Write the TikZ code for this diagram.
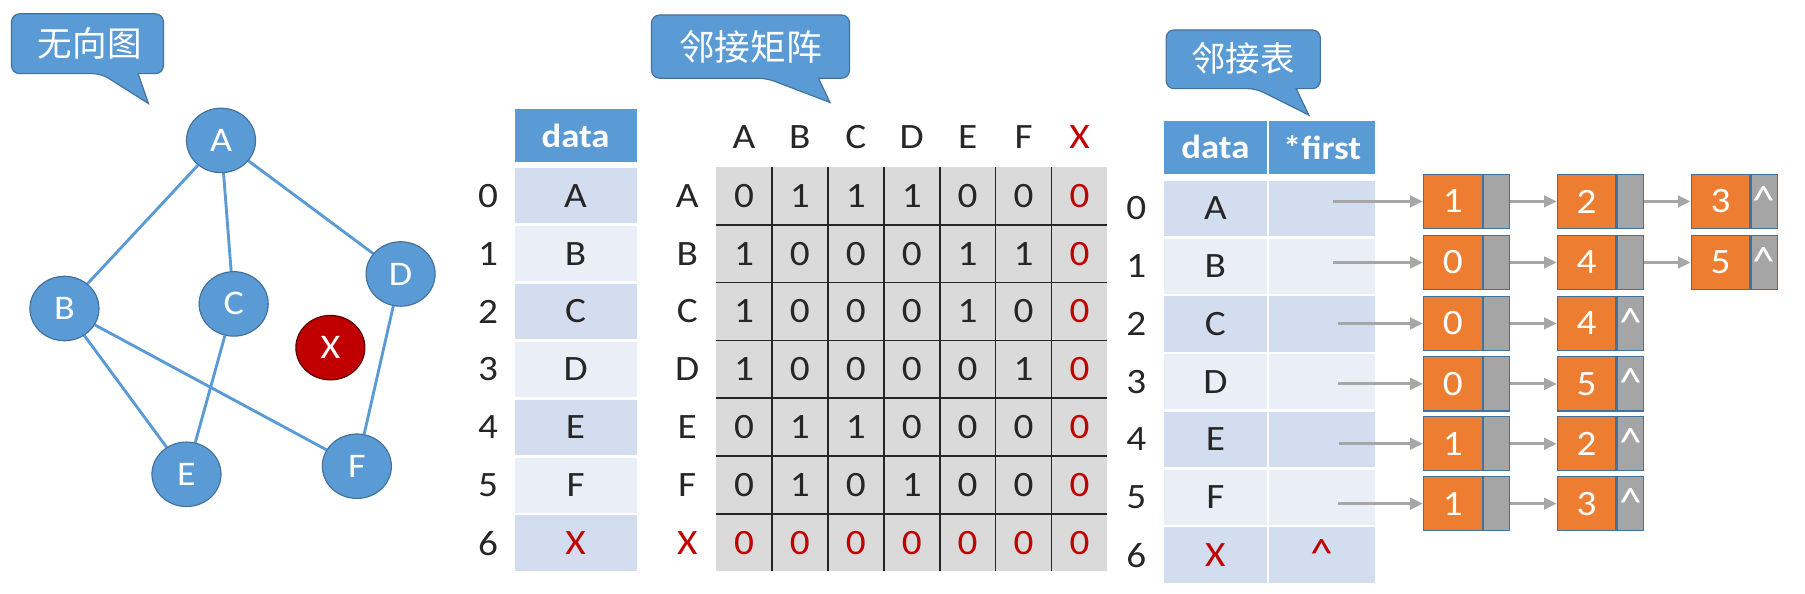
\documentclass[tikz,border=0pt]{standalone}
\usepackage{fontspec}
\setmainfont{Carlito}[FakeStretch=1.1]
\newfontfamily\cjk{Noto Sans CJK SC}
\usetikzlibrary{shapes.geometric,arrows.meta,backgrounds}
\definecolor{cblue}{HTML}{5B9BD5}
\definecolor{cborder}{HTML}{41719C}
\definecolor{cred}{HTML}{C00000}
\definecolor{rowdark}{HTML}{D2DEEF}
\definecolor{rowlight}{HTML}{EAEFF7}
\definecolor{mgray}{HTML}{DADADA}
\definecolor{corange}{HTML}{ED7D31}
\definecolor{cgray}{HTML}{A5A5A5}
\definecolor{agray}{HTML}{A6A6A6}
\definecolor{ctext}{HTML}{262626}
\newcommand\myfs[1]{\fontsize{#1}{#1}\selectfont}
\newcommand\caret{\scalebox{1.5}{\char"5E\relax}}
\begin{document}
\begin{tikzpicture}[x=1pt,y=-1pt,
  bubble/.style={fill=cblue,draw=cborder,line width=1pt},
  bubbletext/.style={text=white,inner sep=0pt,font=\cjk\myfs{#1}},
  gnode/.style={ellipse,fill=cblue,draw=cborder,line width=1pt,minimum width=60pt,minimum height=56pt,inner sep=0pt,text=white,font=\myfs{30}},
  xnode/.style={gnode,fill=cred,draw=black!55!cred},
  gedge/.style={draw=cblue,line width=2.5pt},
  hdr/.style={fill=cblue,text=white,font=\bfseries\myfs{29},inner sep=0pt,minimum height=46pt},
  rowd/.style={fill=rowdark,inner sep=0pt,text=ctext,font=\myfs{31},minimum height=48pt},
  rowl/.style={fill=rowlight,inner sep=0pt,text=ctext,font=\myfs{31},minimum height=48pt},
  lbl/.style={inner sep=0pt,text=ctext,font=\myfs{31}},
  redt/.style={text=cred},
  gridline/.style={draw=black!85,line width=1.5pt},
  onode/.style={fill=corange,draw=cborder,line width=1pt,minimum width=51pt,minimum height=47pt,inner sep=0pt,text=white,font=\myfs{31}},
  pnode/.style={fill=cgray,draw=cborder,line width=1pt,minimum width=23pt,minimum height=47pt,inner sep=0pt,text=white,font=\myfs{24}},
  arr/.style={draw=agray,line width=2.5pt,-{Triangle[length=11pt,width=10pt]}}
]
\useasboundingbox (0,0) rectangle (1568,516);

% ---------- callouts ----------
\path[bubble] (76,12) [rounded corners=7pt] -- (10,12) -- (10,64) -- (88,64) [sharp corners] -- (129,90) -- (120,64) [rounded corners=7pt] -- (142,64) -- (142,12) -- cycle;
\node[bubbletext=30] (t1) at (78,38) {无向图};

\path[bubble] (652,13) [rounded corners=7pt] -- (566,13) -- (566,68) -- (666,68) [sharp corners] -- (721,89) -- (711,68) [rounded corners=7pt] -- (738,68) -- (738,13) -- cycle;
\node[bubbletext=31] (t2) at (652,41) {邻接矩阵};

\path[bubble] (1080,26) [rounded corners=7pt] -- (1013,26) -- (1013,77) -- (1091,77) [sharp corners] -- (1137,100) -- (1126,77) [rounded corners=7pt] -- (1147,77) -- (1147,26) -- cycle;
\node[bubbletext=30] (t3) at (1080,51) {邻接表};

% ---------- graph ----------
\node[gnode] (A) at (192,122) {A};
\node[gnode] (B) at (56,268) {B};
\node[gnode] (C) at (203,264) {C};
\node[gnode] (D) at (348,238) {D};
\node[xnode] (X) at (287,302) {X};
\node[gnode] (E) at (162,412) {E};
\node[gnode] (F) at (310,405) {F};
\begin{scope}[on background layer]
\draw[gedge] (A) -- (B);
\draw[gedge] (A) -- (C);
\draw[gedge] (A) -- (D);
\draw[gedge] (B) -- (E);
\draw[gedge] (B) -- (F);
\draw[gedge] (C) -- (E);
\draw[gedge] (D) -- (F);
\end{scope}

% ---------- left table ----------
\node[hdr,minimum width=106pt] (LH) at (500,118) {data};
\foreach \t/\s [count=\i from 0] in {A/rowd,B/rowl,C/rowd,D/rowl,E/rowd,F/rowl,{\textcolor{cred}{X}}/rowd}{
  \node[\s,minimum width=106pt] (L\i) at (500,170+50.3*\i) {\t};
  \node[lbl] (LI\i) at (424,170+50.3*\i) {\i};
}

% ---------- matrix ----------
\fill[mgray] (622,144.85) rectangle (962,496);
\foreach \k in {1,...,6}{
  \draw[gridline] (622+48.571*\k,144.85) -- (622+48.571*\k,496);
  \draw[gridline] (622,144.85+50.3*\k) -- (962,144.85+50.3*\k);
}
\foreach \c [count=\j from 0] in {A,B,C,D,E,F}{
  \node[lbl] (CH\j) at (646.3+48.571*\j,119) {\c};
}
\node[lbl,redt] (CH6) at (646.3+48.571*6,119) {X};
\foreach \r/\vals [count=\i from 0] in {A/{0,1,1,1,0,0},B/{1,0,0,0,1,1},C/{1,0,0,0,1,0},D/{1,0,0,0,0,1},E/{0,1,1,0,0,0},F/{0,1,0,1,0,0}}{
  \node[lbl] (RH\i) at (597,170+50.3*\i) {\r};
  \foreach \v [count=\j from 0] in \vals {
    \node[lbl] (M\i-\j) at (646.3+48.571*\j,170+50.3*\i) {\v};
  }
  \node[lbl,redt] (M\i-6) at (646.3+48.571*6,170+50.3*\i) {0};
}
\node[lbl,redt] (RH6) at (597,170+50.3*6) {X};
\foreach \j in {0,...,6}{
  \node[lbl,redt] (M6-\j) at (646.3+48.571*\j,170+50.3*6) {0};
}

% ---------- adjacency list table ----------
\node[hdr,minimum width=89pt] (RHd) at (1055.8,128) {data};
\node[hdr,minimum width=92pt] (RHf) at (1148.5,128) {*first};
\foreach \t/\s [count=\i from 0] in {A/rowd,B/rowl,C/rowd,D/rowl,E/rowd,F/rowl}{
  \node[\s,minimum width=89pt] (RD\i) at (1055.8,181+50.2*\i) {\t};
  \node[\s,minimum width=92pt] (RF\i) at (1148.5,181+50.2*\i) {};
  \node[lbl] (RI\i) at (987,181+50.2*\i) {\i};
}
\node[rowd,minimum width=89pt] (RD6) at (1055.8,181+50.2*6) {\textcolor{cred}{X}};
\node[rowd,minimum width=92pt,text=cred,font=\myfs{24}] (RF6) at (1148.5,181+50.2*6) {\raisebox{2pt}{\caret}};
\node[lbl] (RI6) at (987,181+50.2*6) {6};

% ---------- linked nodes ----------
% row / y / start x / last index / list
\foreach \i/\y/\sx/\n/\lst in {0/175/1158/2/{1,2,3},1/228/1158/2/{0,4,5},2/281/1162/1/{0,4},3/333.5/1162/1/{0,5},4/385.5/1163/1/{1,2},5/437.5/1162/1/{1,3}}{
  \coordinate (S\i) at (\sx,\y);
  \foreach \v [count=\j from 0] in \lst {
    \node[onode] (O\i-\j) at (1262+116.3*\j,\y) {\v};
    \node[pnode,anchor=west] (P\i-\j) at (O\i-\j.east) {\ifnum\j=\n\relax\raisebox{2pt}{\caret}\fi};
  }
}
\foreach \i in {0,...,5}{
  \draw[arr] (S\i) -- (O\i-0);
}
\foreach \i/\j/\k in {0/0/1,0/1/2,1/0/1,1/1/2,2/0/1,3/0/1,4/0/1,5/0/1}{
  \draw[arr] (P\i-\j.east) -- (O\i-\k);
}
\end{tikzpicture}
\end{document}
